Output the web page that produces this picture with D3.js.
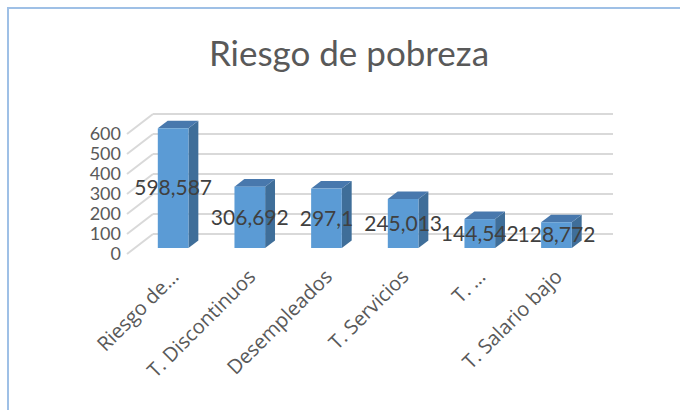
<!DOCTYPE html>
<html>
<head>
<meta charset="utf-8">
<script src="https://cdn.jsdelivr.net/npm/d3@7"></script>
<style>
  html, body { margin: 0; padding: 0; background: #fff; }
  svg { display: block; }
</style>
</head>
<body>
<svg></svg>
<script>
// data
const categories = ["Riesgo de...", "T. Discontinuos", "Desempleados", "T. Servicios", "T. ...", "T. Salario bajo"];
const values = [598.587, 306.692, 297.1, 245.013, 144.542, 128.772];
const yTicks = [0, 100, 200, 300, 400, 500, 600];
const title = "Riesgo de pobreza";

const width = 680;
const height = 410;

// 3d wall depth (full) and bar position inside it
const wallDx = 26, wallDy = -20;
const barFront = 0.3, barBack = 0.68;

const svg = d3.select("svg")
    .attr("width", width)
    .attr("height", height);

// chart border
svg.append("rect")
    .attr("x", 8).attr("y", 8)
    .attr("width", 700).attr("height", 430)
    .attr("fill", "none")
    .attr("stroke", "#9fc0e6")
    .attr("stroke-width", 2);

svg.append("text")
    .attr("x", 349).attr("y", 66)
    .attr("text-anchor", "middle")
    .attr("font-family", "Lato, 'Open Sans', sans-serif")
    .attr("font-size", 35)
    .attr("fill", "#595959")
    .text(title);

// scales (front plane)
const x = d3.scaleBand()
    .domain(categories)
    .range([127, 587])
    .paddingInner(0.6)
    .paddingOuter(0.3);

const y = d3.scaleLinear()
    .domain([0, 600])
    .range([254, 134]);

const x0 = x.range()[0], x1 = x.range()[1];

// back wall gridlines
svg.append("g")
    .selectAll("line")
    .data(yTicks)
    .join("line")
    .attr("x1", x0 + wallDx).attr("x2", x1 + wallDx)
    .attr("y1", d => y(d) + wallDy).attr("y2", d => y(d) + wallDy)
    .attr("stroke", "#d9d9d9")
    .attr("stroke-width", 2);

// side wall gridlines
svg.append("g")
    .selectAll("line")
    .data(yTicks)
    .join("line")
    .attr("x1", x0).attr("x2", x0 + wallDx)
    .attr("y1", d => y(d)).attr("y2", d => y(d) + wallDy)
    .attr("stroke", "#d9d9d9")
    .attr("stroke-width", 2);

// y tick labels
svg.append("g")
    .selectAll("text")
    .data(yTicks)
    .join("text")
    .attr("x", 121)
    .attr("y", d => y(d))
    .attr("dy", "0.35em")
    .attr("text-anchor", "end")
    .attr("font-family", "Lato, sans-serif")
    .attr("font-size", 18)
    .attr("fill", "#595959")
    .text(d => d);

// bars
const fdx = wallDx * barFront, fdy = wallDy * barFront;
const ddx = wallDx * (barBack - barFront), ddy = wallDy * (barBack - barFront);

const bars = svg.append("g")
    .selectAll("g")
    .data(categories.map((c, i) => ({ cat: c, value: values[i] })))
    .join("g");

bars.append("path") // side
    .attr("fill", "#3f6e99")
    .attr("d", d => {
        const xr = x(d.cat) + x.bandwidth() + fdx;
        const yt = y(d.value) + fdy, yb = y(0) + fdy;
        return `M${xr},${yt}L${xr + ddx},${yt + ddy}L${xr + ddx},${yb + ddy}L${xr},${yb}Z`;
    });

bars.append("path") // top
    .attr("fill", "#4878ad")
    .attr("d", d => {
        const xl = x(d.cat) + fdx, xr = xl + x.bandwidth();
        const yt = y(d.value) + fdy;
        return `M${xl},${yt}L${xr},${yt}L${xr + ddx},${yt + ddy}L${xl + ddx},${yt + ddy}Z`;
    });

bars.append("rect") // front
    .attr("x", d => x(d.cat) + fdx)
    .attr("y", d => y(d.value) + fdy)
    .attr("width", x.bandwidth())
    .attr("height", d => y(0) - y(d.value))
    .attr("fill", "#5b9bd5");

// data labels
svg.append("g")
    .selectAll("text")
    .data(categories.map((c, i) => ({ cat: c, value: values[i] })))
    .join("text")
    .attr("x", d => x(d.cat) + fdx + x.bandwidth() / 2)
    .attr("y", d => (y(d.value) + y(0)) / 2 + fdy)
    .attr("dy", "0.35em")
    .attr("text-anchor", "middle")
    .attr("font-family", "Lato, sans-serif")
    .attr("font-size", 21)
    .attr("fill", "#404040")
    .text(d => String(d.value).replace(".", ","));

// category labels
svg.append("g")
    .selectAll("text")
    .data(categories)
    .join("text")
    .attr("transform", d => `translate(${x(d) + fdx + x.bandwidth() / 2 + 2},${273}) rotate(-45)`)
    .attr("dy", "0.35em")
    .attr("text-anchor", "end")
    .attr("font-family", "'Open Sans', sans-serif")
    .attr("font-size", 20)
    .attr("fill", "#595959")
    .text(d => d);
</script>
</body>
</html>
